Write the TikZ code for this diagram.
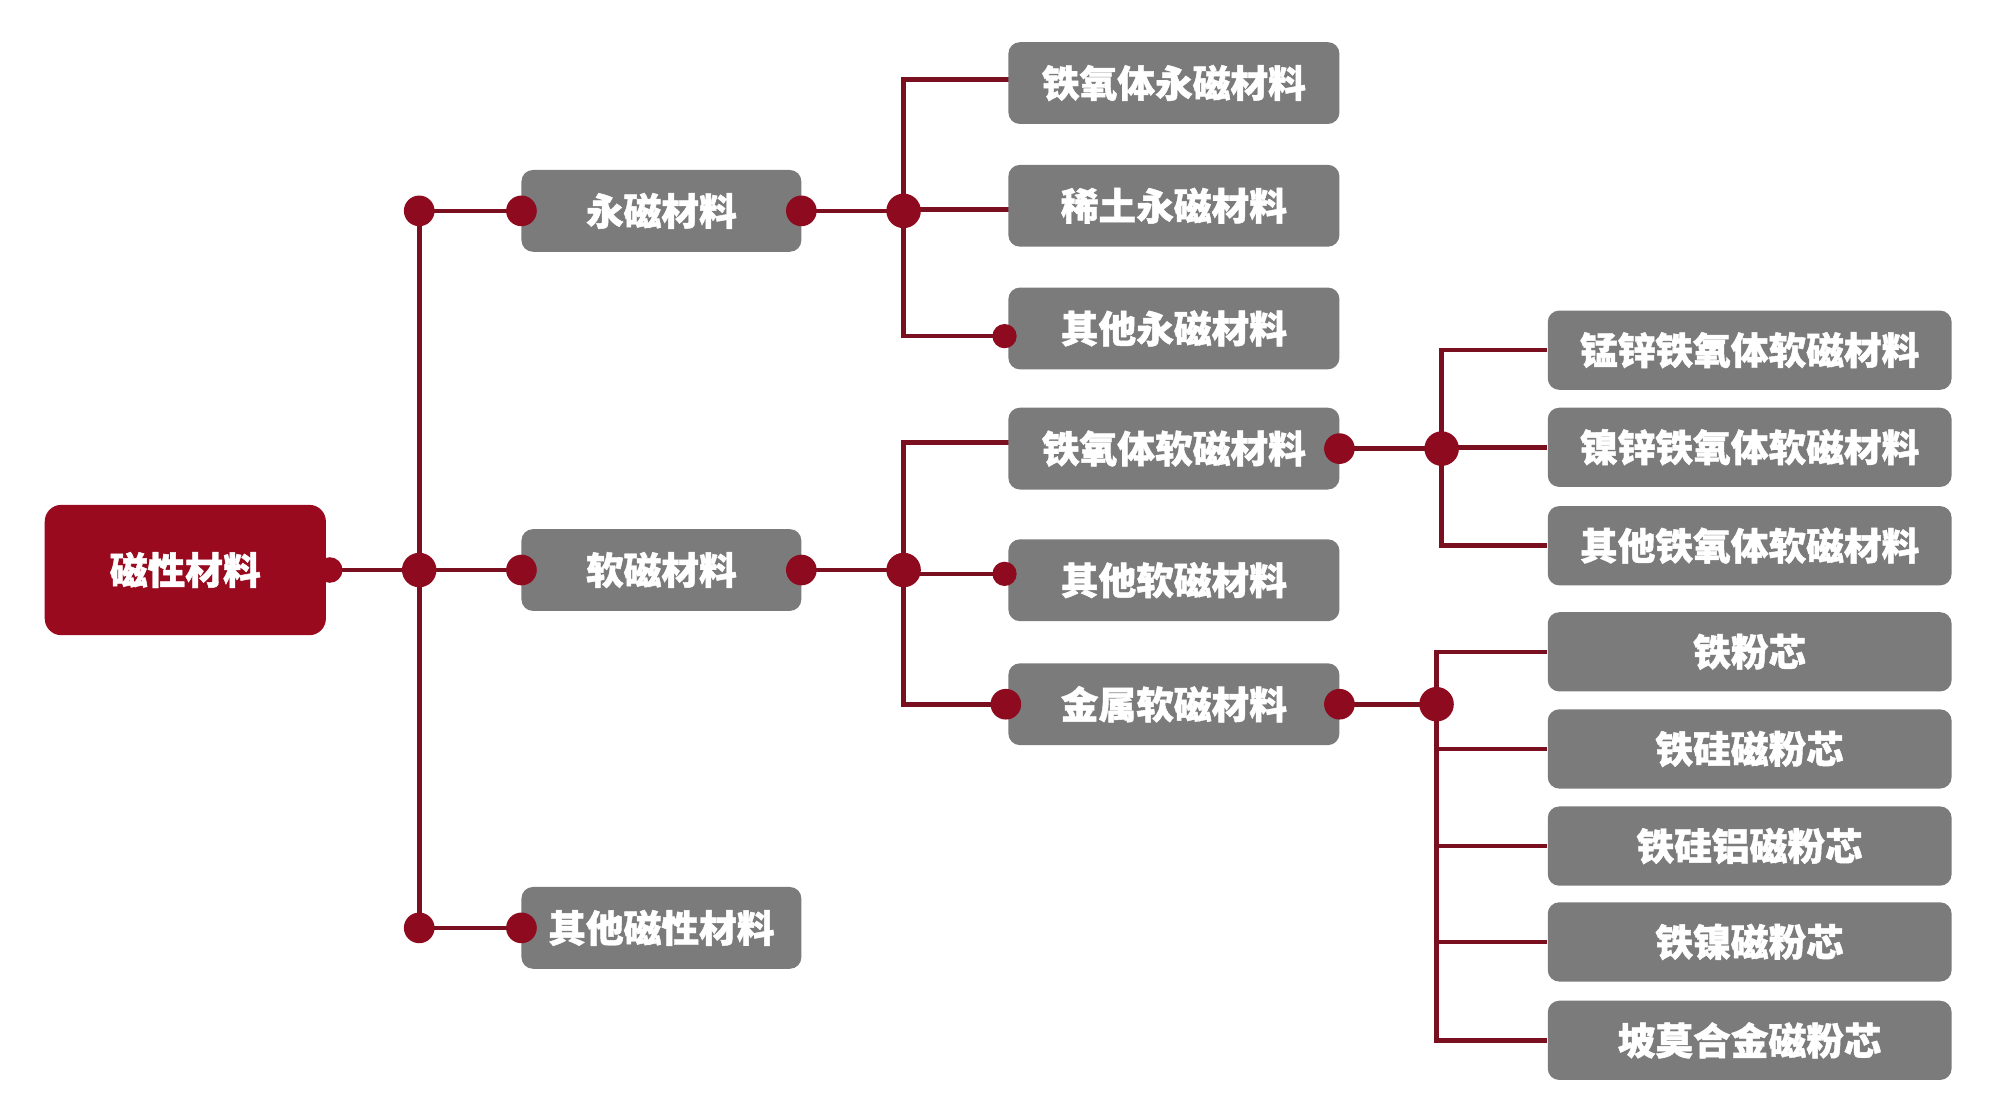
\documentclass[tikz,border=0pt]{standalone}
\usepackage{fontspec}
\newfontfamily\cjk[BoldFeatures={FakeBold=1.2}]{Noto Sans CJK SC}
\usetikzlibrary{backgrounds}
\definecolor{rootred}{HTML}{9A0A1F}
\definecolor{dotred}{HTML}{8E0A1E}
\definecolor{linered}{HTML}{7A0F1F}
\definecolor{boxgray}{HTML}{7B7B7B}
\tikzset{
  box/.style={rectangle, rounded corners=9pt, fill=boxgray, text=white,
    font=\cjk\bfseries\fontsize{29.5}{29.5}\selectfont, inner sep=0pt, minimum height=64pt},
  lone/.style={box, minimum width=219pt},
  ltwo/.style={box, minimum width=259pt},
  lthree/.style={box, minimum width=316pt, minimum height=62pt},
  rootbox/.style={box, fill=rootred, minimum width=220pt, minimum height=102pt, rounded corners=13pt},
  dotbig/.style={circle, fill=dotred, inner sep=0pt, minimum size=27pt},
  dotmid/.style={circle, fill=dotred, inner sep=0pt, minimum size=24pt},
  dotsmall/.style={circle, fill=dotred, inner sep=0pt, minimum size=19pt},
  conn/.style={draw=linered, line width=3.6pt}
}
\begin{document}
\begin{tikzpicture}[x=1pt,y=-1pt]
\useasboundingbox (0,0) rectangle (1568,875);
% boxes
\node[rootbox] (root) at (145,446) {磁性材料};
\node[lone] (yong) at (517.5,165) {永磁材料};
\node[lone] (ruan) at (517.5,446) {软磁材料};
\node[lone] (qita) at (517.5,726) {其他磁性材料};
\node[ltwo] (a1) at (918.5,65) {铁氧体永磁材料};
\node[ltwo] (a2) at (918.5,161) {稀土永磁材料};
\node[ltwo] (a3) at (918.5,257) {其他永磁材料};
\node[ltwo] (b1) at (918.5,351) {铁氧体软磁材料};
\node[ltwo] (b2) at (918.5,454) {其他软磁材料};
\node[ltwo] (b3) at (918.5,551) {金属软磁材料};
\node[lthree] (c1) at (1369,274) {锰锌铁氧体软磁材料};
\node[lthree] (c2) at (1369,350) {镍锌铁氧体软磁材料};
\node[lthree] (c3) at (1369,427) {其他铁氧体软磁材料};
\node[lthree] (d1) at (1369,510) {铁粉芯};
\node[lthree] (d2) at (1369,586) {铁硅磁粉芯};
\node[lthree] (d3) at (1369,662) {铁硅铝磁粉芯};
\node[lthree] (d4) at (1369,737) {铁镍磁粉芯};
\node[lthree] (d5) at (1369,814) {坡莫合金磁粉芯};
% dots
\node[circle, fill=rootred, inner sep=0pt, minimum size=20pt] (rd) at (258,446) {};
\node[dotmid] (t1) at (328,165) {};
\node[dotbig] (j0) at (328,446) {};
\node[dotmid] (t3) at (328,726) {};
\node[dotmid] (yl) at (408,165) {};
\node[dotmid] (rl) at (408,446) {};
\node[dotmid] (ql) at (408,726) {};
\node[dotmid] (yr) at (627,165) {};
\node[dotmid] (rr) at (627,446) {};
\node[dotbig] (j1) at (707,165) {};
\node[dotbig] (j2) at (707,446) {};
\node[dotsmall] (a3l) at (786,263) {};
\node[dotsmall] (b2l) at (786,449) {};
\node[dotmid] (b3l) at (787,551) {};
\node[dotmid] (b1r) at (1048,351) {};
\node[dotmid] (b3r) at (1048,551) {};
\node[dotbig] (j3) at (1128,351) {};
\node[dotbig] (j4) at (1124,551) {};
\coordinate (a1in) at (795,62);
\coordinate (a2in) at (795,164);
\coordinate (b1in) at (795,346);
% connectors
\begin{scope}[on background layer]
\fill[white] (0,0) rectangle (1568,875);
\draw[conn] (rd.center) -- (j0.center);
\draw[conn] (t1.center) -- (t3.center);
\draw[conn] (t1.center) -- (yl.center);
\draw[conn] (j0.center) -- (rl.center);
\draw[conn] (t3.center) -- (ql.center);
\draw[conn] (yr.center) -- (j1.center);
\draw[conn] (rr.center) -- (j2.center);
\draw[conn] (j1.center) |- (a1in);
\draw[conn] (j1.center) |- (a2in);
\draw[conn] (j1.center) |- (a3l.center);
\draw[conn] (j2.center) |- (b1in);
\draw[conn] (j2.center) |- (b2l.center);
\draw[conn] (j2.center) |- (b3l.center);
\draw[conn] (b1r.center) -- (j3.center);
\draw[conn] (j3.center) |- (c1.west);
\draw[conn] (j3.center) |- (c2.west);
\draw[conn] (j3.center) |- (c3.west);
\draw[conn] (b3r.center) -- (j4.center);
\draw[conn] (j4.center) |- (d1.west);
\draw[conn] (j4.center) |- (d2.west);
\draw[conn] (j4.center) |- (d3.west);
\draw[conn] (j4.center) |- (d4.west);
\draw[conn] (j4.center) |- (d5.west);
\end{scope}
\end{tikzpicture}
\end{document}
